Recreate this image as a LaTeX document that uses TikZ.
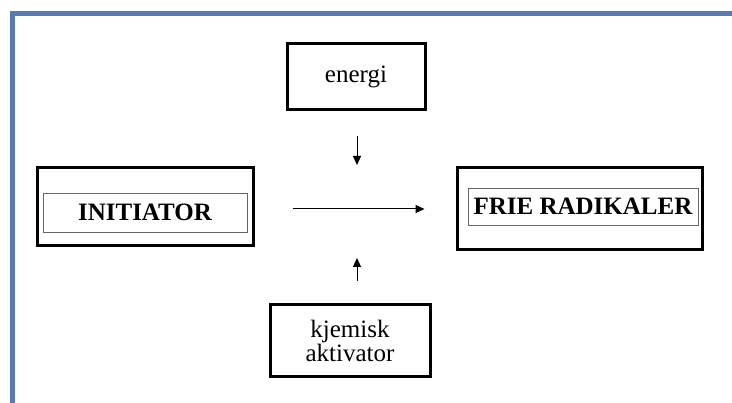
\documentclass[tikz,border=0pt]{standalone}
\usepackage{fontspec}
\setmainfont{Liberation Serif}
\usepackage{xcolor}
\usetikzlibrary{arrows.meta,positioning,calc}
\definecolor{framblue}{RGB}{88,122,180}

\begin{document}
\begin{tikzpicture}[x=1pt, y=-1pt,
    every node/.style={font=\fontsize{25}{28}\selectfont},
    ytre/.style={draw, line width=3pt, inner sep=0pt},
    indre/.style={draw=black!60, line width=0.6pt, inner sep=0pt, font=\fontsize{25}{28}\selectfont\bfseries},
    pil/.style={-{Triangle[length=9pt,width=8pt]}, line width=1pt}]
  \useasboundingbox (0,0) rectangle (732,403);
  % Ramme
  \draw[framblue, line width=5pt] (12,403) -- (12,13.5) -- (732,13.5);
  % Bokser
  \node[ytre, minimum width=216pt, minimum height=78pt] (init) at (145,207) {};
  \node[indre, minimum width=204pt, minimum height=39pt] (initlbl) at (145,212.5) {INITIATOR};
  \node[ytre, minimum width=245pt, minimum height=82pt] (rad) at (579.5,209) {};
  \node[indre, minimum width=230pt, minimum height=37pt] (radlbl) at (583,206.5) {FRIE RADIKALER};
  \node[ytre, minimum width=138pt, minimum height=66pt] (energi) at (356,77) {energi};
  \node[ytre, minimum width=160pt, minimum height=72pt, align=center] (kjem) at (350,341)
    {kjemisk\\[-4pt]aktivator};
  % Piler
  \coordinate (hub) at (357,209);
  \draw[pil, shorten <=25pt, shorten >=44pt] (energi.south -| hub) -- (hub);
  \draw[pil, shorten <=22pt, shorten >=49pt] (kjem.north -| hub) -- (hub);
  \draw[pil, shorten <=38pt, shorten >=31pt] (init.east |- hub) -- (rad.west |- hub);
\end{tikzpicture}
\end{document}
